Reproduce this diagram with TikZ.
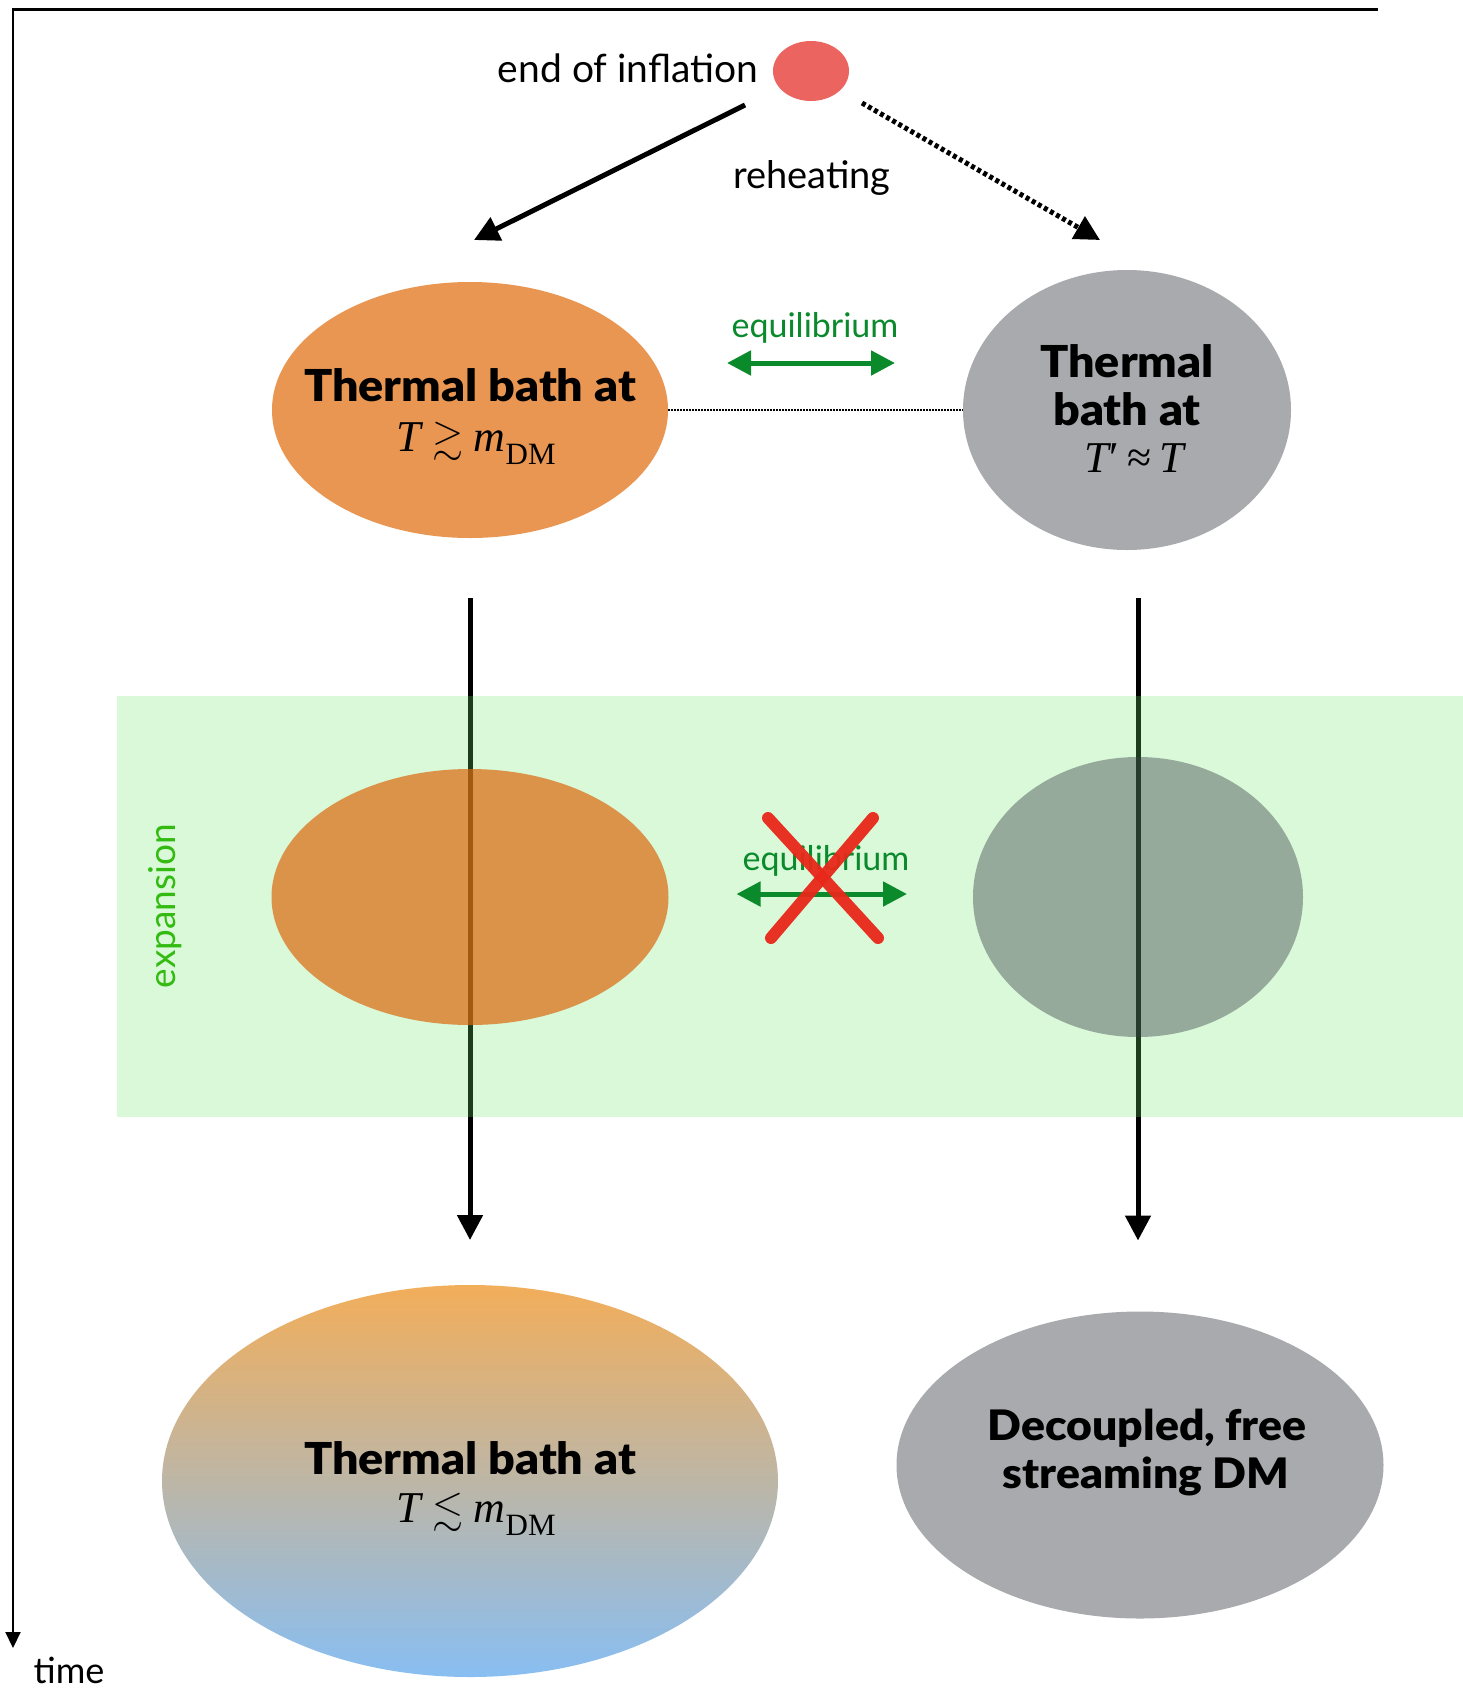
\documentclass[tikz,border=0pt]{standalone}
\usepackage{fontspec}
\usepackage{amssymb}
\setmainfont{Lato}
\newfontfamily\heavy{Lato Black}[FakeStretch=1.06]
\newfontfamily\tms{Liberation Serif}
\usetikzlibrary{arrows.meta,shapes.geometric}
\definecolor{orA}{RGB}{232,150,82}
\definecolor{grA}{RGB}{169,170,173}
\definecolor{dotred}{RGB}{236,100,95}
\definecolor{eqgreen}{RGB}{11,138,44}
\definecolor{expgreen}{RGB}{51,187,17}
\definecolor{bandgreen}{RGB}{112,232,112}
\definecolor{orB}{RGB}{220,104,14}
\definecolor{grB}{RGB}{56,62,71}
\definecolor{xred}{RGB}{232,40,26}
\definecolor{gtop}{RGB}{242,174,90}
\definecolor{gbot}{RGB}{136,190,242}
\newcommand{\mT}{{\tms\itshape T}}
\newcommand{\mm}{{\tms\itshape m}}
\newcommand{\mDM}{\raisebox{-0.3em}{\tms\fontsize{31}{31}\selectfont DM}}
\begin{document}
\begin{tikzpicture}[x=1pt,y=-1pt,
  blob/.style={ellipse,draw=none,inner sep=0pt,outer sep=0pt},
  regtext/.style={font=\fontsize{39}{44}\selectfont,anchor=base,inner sep=0pt},
  boldtext/.style={font=\heavy\fontsize{44}{48}\selectfont,anchor=base,inner sep=0pt},
  mathtext/.style={font=\tms\fontsize{44}{48}\selectfont,anchor=base,inner sep=0pt},
  eqtext/.style={font=\fontsize{34}{40}\selectfont,text=eqgreen,anchor=base,inner sep=0pt},
  bigtip/.style={-{Triangle[length=25pt,width=25pt]}},
  eqarrow/.style={draw=eqgreen,line width=5pt,{Triangle[length=24pt,width=24pt]}-{Triangle[length=24pt,width=24pt]}},
  flowarrow/.style={line width=5pt,bigtip},
  crossline/.style={draw=xred,line width=12pt,line cap=round,opacity=0.95}
]
\useasboundingbox (0,0) rectangle (1463,1690);
\fill[white] (0,0) rectangle (1463,1690);

% time axis and top line
\coordinate (tl) at (13,9);
\coordinate (tr) at (1378,9);
\coordinate (tb) at (13,1648);
\draw[line width=3pt] (tl) -- (tr);
\draw[line width=2pt,-{Triangle[length=16pt,width=15pt]}] (13,8) -- (tb);
\node[regtext,font=\fontsize{36}{40}\selectfont] (time) at (69,1683) {time};

% end of inflation
\node[blob,fill=dotred,minimum width=76pt,minimum height=60pt] (dot) at (811,71) {};
\node[regtext] (eoi) at (628,82) {end of inflation};
\node[regtext,font=\fontsize{38}{44}\selectfont] (reh) at (812,188) {reheating};

\coordinate (a1s) at (745,105);
\coordinate (a1e) at (474,240);
\coordinate (a2s) at (862,103);
\coordinate (a2e) at (1100,240);
\draw[flowarrow] (a1s) -- (a1e);
\draw[line width=5pt,dash pattern=on 4pt off 3pt,-{Triangle[length=25pt,width=25pt]}] (a2s) -- (a2e);

% top ellipses
\node[blob,fill=orA,minimum width=396pt,minimum height=256pt] (e1) at (470,410) {};
\node[blob,fill=grA,minimum width=328pt,minimum height=280pt] (e2) at (1127,410) {};
\node[boldtext] (e1t1) at (470,401) {Thermal bath at};
\node[mathtext] (e1t2) at (476,451) {\mT\hspace{12pt}{\fontsize{40}{40}\selectfont$\gtrsim$}\hspace{10pt}\mm\mDM};
\node[boldtext] (e2t1) at (1127,377) {Thermal};
\node[boldtext] (e2t2) at (1127,425) {bath at};
\node[mathtext] (e2t3) at (1134,472) {\mT\kern1pt′\hspace{8pt}≈\hspace{8pt}\mT};
\draw[line width=1.5pt,dash pattern=on 1.5pt off 1.5pt] (e1.east) -- (e2.west);
\node[eqtext] (eq1) at (815,337) {equilibrium};
\draw[eqarrow] ([shift={(59pt,47pt)}]e1.east) -- ([shift={(-68pt,47pt)}]e2.west);

% vertical flow arrows (drawn under the band)
\coordinate (c3) at (1138,897);
\coordinate (c5) at (470,1481);
\coordinate (c6) at (1140,1465);
\node[blob,top color=gtop,bottom color=gbot,minimum width=616pt,minimum height=392pt] (e5) at (c5) {};
\node[blob,fill=grA,minimum width=487pt,minimum height=307pt] (e6) at (c6) {};
\coordinate (r1) at ([yshift=-48pt]e2.south);
\coordinate (r2) at ([yshift=71pt]e6.north);
\coordinate (l1) at ([yshift=-60pt]e1.south);
\coordinate (l2) at ([yshift=45pt]e5.north);
\draw[flowarrow] (l1) -- (l2);
\draw[flowarrow] (r1 -| c3) -- (r2 -| c3);

% expansion band
\fill[bandgreen,fill opacity=0.26] (117,696) rectangle (1463,1117);
\node[regtext,anchor=center,rotate=90,text=expgreen,font=\fontsize{37}{44}\selectfont] (exp) at (165,906) {expansion};

% middle ellipses
\node[blob,fill=orB,fill opacity=0.7,minimum width=397pt,minimum height=256pt] (e3) at (470,897) {};
\node[blob,fill=grB,fill opacity=0.42,minimum width=330pt,minimum height=280pt] (e4) at (c3) {};

% broken equilibrium
\node[eqtext] (eq2) at (826,870) {equilibrium};
\draw[eqarrow] ([shift={(68pt,3pt)}]e3.east) -- ([shift={(-66pt,3pt)}]e4.west);
\coordinate (xa) at (768,818);
\coordinate (xb) at (878,938);
\coordinate (xc) at (873,818);
\coordinate (xd) at (771,938);
\draw[crossline] (xa) -- (xb);
\draw[crossline] (xc) -- (xd);

% bottom texts
\node[boldtext] (e5t1) at (470,1474) {Thermal bath at};
\node[mathtext] (e5t2) at (476,1522) {\mT\hspace{12pt}{\fontsize{40}{40}\selectfont$\lesssim$}\hspace{10pt}\mm\mDM};
\node[boldtext,font=\heavy\fontsize{42}{48}\selectfont] (e6t1) at (1147,1440) {Decoupled, free};
\node[boldtext,font=\heavy\fontsize{42}{48}\selectfont] (e6t2) at (1146,1488) {streaming DM};
\end{tikzpicture}
\end{document}
